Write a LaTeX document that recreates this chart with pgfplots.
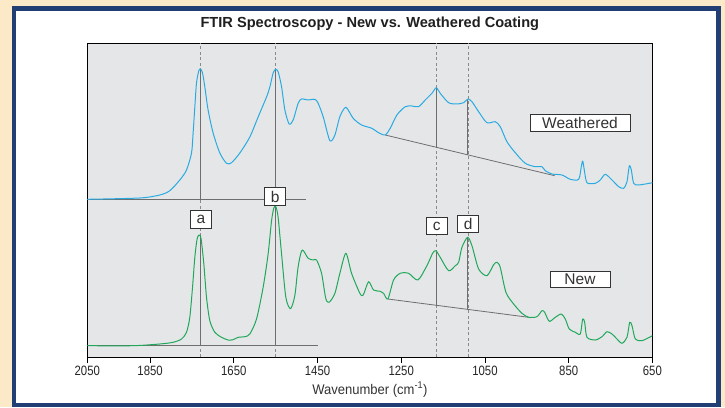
\documentclass[border=0pt]{standalone}
\usepackage{pgfplots}
\pgfplotsset{compat=1.18}
\usepackage{fontspec}
\setmainfont{Liberation Sans}
\newfontfamily\condfont{Liberation Sans}[FakeStretch=0.84]
\newfontfamily\labfont{Liberation Sans}[FakeStretch=0.93]
\usetikzlibrary{backgrounds}
\definecolor{weathered}{HTML}{29ABE2}
\definecolor{newc}{HTML}{1FA85A}
\definecolor{plotbg}{HTML}{E5E6E8}
\definecolor{frameblue}{HTML}{213F74}
\definecolor{cream}{HTML}{FBE9C7}
\definecolor{dashg}{HTML}{8A8A8A}
\definecolor{solidg}{HTML}{6E6E6E}
\tikzset{labbox/.style={draw=black!80, line width=0.8pt, fill=white, inner sep=0pt, text=black!80,
    font=\fontsize{15.5}{16}\selectfont, minimum width=21pt, minimum height=17.5pt}}

\pgfplotstableread{
x y
2000 158.0
1874.6 159.3
1826.8 162.3
1802.9 166.6
1779.0 177.3
1763.0 187.3
1751.0 204.3
1747.2 224.3
1743.1 250.3
1739.1 274.3
1733.6 286.6
1729.5 288.3
1724.7 284.3
1719.2 270.3
1711.4 247.3
1699.4 224.3
1683.4 204.3
1667.4 194.0
1655.4 194.6
1635.6 204.3
1611.7 220.3
1591.9 240.3
1571.8 260.3
1563.9 270.3
1556.0 284.3
1550.3 288.0
1544.1 285.6
1535.9 270.6
1528.0 247.3
1517.8 233.3
1508.2 237.3
1496.3 254.0
1488.1 258.3
1472.4 257.3
1456.3 258.0
1448.5 254.0
1436.5 240.6
1420.5 216.6
1408.5 222.3
1396.6 240.6
1382.3 250.0
1364.8 239.0
1344.7 232.3
1320.1 229.0
1304.1 224.6
1288.3 222.3
1276.4 229.0
1260.4 242.3
1240.5 250.6
1224.5 251.3
1208.5 250.6
1192.7 257.3
1176.7 264.0
1166.4 269.6
1156.9 264.0
1136.8 254.6
1117.0 253.3
1101.0 254.6
1090.7 258.3
1081.1 255.6
1065.1 245.6
1045.3 234.6
1025.4 235.6
1013.5 230.6
997.5 215.6
977.6 204.6
953.7 194.0
929.8 190.6
913.8 190.6
905.9 186.6
889.9 183.3
866.0 182.3
846.2 178.0
826.1 178.0
819.9 190.6
816.5 196.3
812.7 187.3
806.3 174.6
786.4 174.0
774.5 177.3
762.5 183.0
746.5 177.3
730.5 170.6
718.6 169.0
710.7 175.6
705.2 191.3
700.4 187.3
694.7 174.0
682.7 172.3
650 174.6
}\weatheredtable

\pgfplotstableread{
x y
2000 11.6
1890.6 11.6
1826.8 13.3
1795.0 15.0
1774.9 18.3
1763.0 25.0
1755.1 40.0
1748.6 70.0
1743.1 100.0
1737.7 118.3
1732.9 122.3
1728.1 118.3
1721.6 93.3
1715.2 60.0
1707.3 36.6
1695.3 25.0
1679.3 20.0
1663.6 17.3
1651.6 17.6
1639.7 20.0
1623.6 20.6
1611.7 23.3
1595.7 38.3
1579.9 70.0
1568.0 103.3
1559.8 136.6
1554.3 149.3
1549.6 150.6
1544.1 140.0
1535.9 103.3
1525.7 60.0
1514.4 48.6
1504.1 62.0
1496.3 90.6
1486.7 107.3
1472.4 99.0
1460.4 97.3
1452.3 97.3
1440.3 84.0
1430.4 59.0
1422.2 55.0
1408.5 64.0
1396.6 84.0
1382.3 104.0
1368.7 84.0
1348.8 64.0
1340.8 62.3
1328.0 75.6
1316.2 67.3
1300.2 66.0
1292.2 64.0
1281.9 58.3
1268.3 77.3
1252.5 84.0
1232.4 84.0
1210.2 77.3
1188.7 91.6
1175.0 104.0
1167.2 106.6
1156.9 100.0
1136.8 86.6
1121.0 91.6
1112.9 95.0
1105.0 110.0
1091.4 120.0
1081.1 111.6
1065.1 88.3
1045.3 81.6
1029.3 92.6
1021.4 95.0
1013.5 90.0
999.9 65.0
981.5 53.3
961.6 44.0
945.6 40.0
925.8 40.6
913.8 46.6
907.4 45.0
896.4 36.0
882.0 40.0
867.7 43.3
858.1 38.3
848.6 28.3
834.2 25.0
822.3 23.3
816.5 38.3
811.8 35.0
806.3 20.0
786.4 17.3
770.4 20.6
758.5 25.6
746.5 23.3
734.6 18.3
722.6 14.0
710.7 20.0
704.2 35.0
698.7 31.6
690.8 18.3
674.8 16.6
650 21.6
}\newtable

\begin{document}
\begin{tikzpicture}
\begin{axis}[name=ax, scale only axis, width=565.1pt, height=314pt,
  x dir=reverse, xmin=650, xmax=2000, ymin=0, ymax=314,
  axis line style={black, line width=0.8pt},
  ytick=\empty,
  xtick={2000,1850,1650,1450,1250,1050,850,650},
  xticklabels={2050,1850,1650,1450,1250,1050,850,650},
  xtick pos=left,
  tick align=outside, major tick length=5.5pt,
  x tick style={black, line width=0.8pt},
  xticklabel style={font=\condfont\fontsize{13.5}{14}\selectfont, text=black!85},
  xlabel={Wavenumber (cm\textsuperscript{-1})},
  xlabel style={font=\labfont\fontsize{14}{15}\selectfont, text=black!80, at={(0.5,0)}, anchor=base, yshift=-36.7pt},
  title={FTIR Spectroscopy - New vs. Weathered Coating},
  title style={font=\bfseries\fontsize{14.6}{16}\selectfont, text=black!88, at={(0.5,1)}, anchor=base, yshift=10pt},
  no markers,
  every axis plot/.append style={line join=round},
]
% dashed guide lines
\addplot[dashg, line width=0.8pt, dash pattern=on 3pt off 2.5pt] coordinates {(1729.5,0) (1729.5,314)};
\addplot[dashg, line width=0.8pt, dash pattern=on 3pt off 2.5pt] coordinates {(1550,0) (1550,314)};
\addplot[dashg, line width=0.8pt, dash pattern=on 3pt off 2.5pt] coordinates {(1166.4,0) (1166.4,314)};
\addplot[dashg, line width=0.8pt, dash pattern=on 3pt off 2.5pt] coordinates {(1090.7,0) (1090.7,314)};
% baselines
\addplot[solidg, line width=0.8pt] coordinates {(2000,158) (1477.9,158)};
\addplot[solidg, line width=0.8pt] coordinates {(1288.3,222.3) (883.5,181.6)};
\addplot[solidg, line width=0.8pt] coordinates {(2000,12) (1448.5,12)};
\addplot[solidg, line width=0.8pt] coordinates {(1281.9,58.3) (945.6,40)};
% peak-to-baseline lines
\addplot[solidg, line width=0.9pt] coordinates {(1729.5,158) (1729.5,288.3)};
\addplot[solidg, line width=0.9pt] coordinates {(1550,158) (1550,288)};
\addplot[solidg, line width=0.9pt] coordinates {(1166.4,210) (1166.4,269.6)};
\addplot[solidg, line width=0.9pt] coordinates {(1090.7,202.4) (1090.7,258.3)};
\addplot[solidg, line width=0.9pt] coordinates {(1729.5,12) (1729.5,122)};
\addplot[solidg, line width=0.9pt] coordinates {(1550,12) (1550,150.6)};
\addplot[solidg, line width=0.9pt] coordinates {(1166.4,52) (1166.4,106.6)};
\addplot[solidg, line width=0.9pt] coordinates {(1090.7,47.9) (1090.7,120)};
% spectra
\addplot[weathered, line width=1pt, smooth, tension=0.45] table {\weatheredtable};
\addplot[newc, line width=1pt, smooth, tension=0.45] table {\newtable};
% labels
\node[labbox] at (axis cs:1728.3,138) {a};
\node[labbox] at (axis cs:1551.2,160.8) {b};
\node[labbox] at (axis cs:1165.2,131.3) {c};
\node[labbox] at (axis cs:1090.2,133.3) {d};
\node[labbox, minimum width=100pt, minimum height=17pt] at (axis cs:823,234.8) {Weathered};
\node[labbox, minimum width=60pt, minimum height=16pt] at (axis cs:823,78.3) {New};
\end{axis}
\begin{scope}[on background layer]
\fill[cream] ([shift={(-87.3pt,-49.7pt)}]ax.south west) rectangle ([shift={(637.7pt,357.3pt)}]ax.south west);
\filldraw[fill=white, draw=frameblue, line width=4.3pt] ([shift={(-73.4pt,-47.7pt)}]ax.south west) rectangle ([shift={(631.2pt,348.8pt)}]ax.south west);
\fill[plotbg] (ax.south west) rectangle (ax.north east);
\end{scope}
\pgfresetboundingbox
\path[use as bounding box] ([shift={(-87.3pt,-49.7pt)}]ax.south west) rectangle ([shift={(637.7pt,357.3pt)}]ax.south west);
\end{tikzpicture}
\end{document}
